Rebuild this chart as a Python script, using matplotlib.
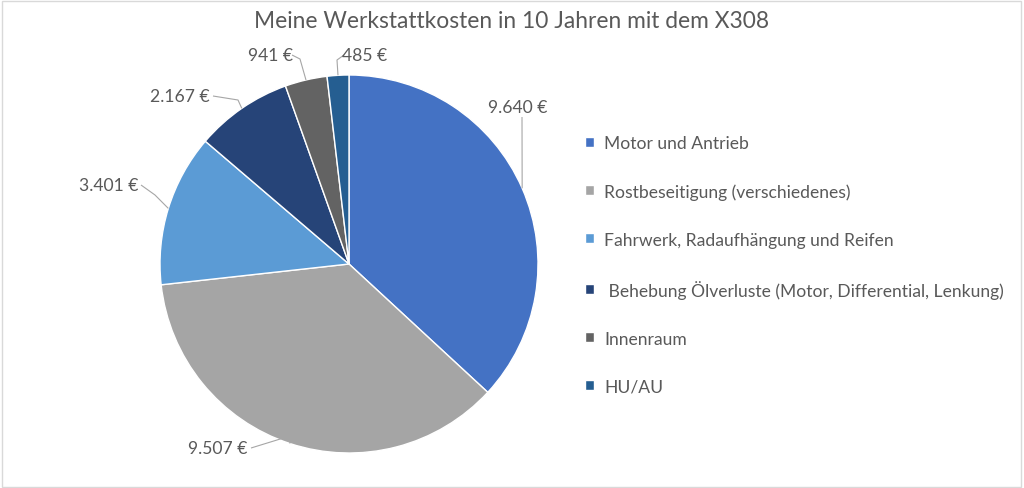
import numpy as np
import matplotlib.pyplot as plt
from matplotlib.patches import Rectangle

categories = ["Motor und Antrieb", "Rostbeseitigung (verschiedenes)",
              "Fahrwerk, Radaufhängung und Reifen",
              " Behebung Ölverluste (Motor, Differential, Lenkung)",
              "Innenraum", "HU/AU"]
values = [9640, 9507, 3401, 2167, 941, 485]
value_labels = ["9.640 €", "9.507 €", "3.401 €", "2.167 €", "941 €", "485 €"]
colors = ["#4472C4", "#A5A5A5", "#5B9BD5", "#264478", "#636363", "#255E91"]

# label text anchor positions (pixel coords, y from top)
label_pos = [(518, 108), (218, 449), (109, 186), (180, 97), (270, 56), (365, 56)]

plt.rcParams['font.family'] = ['Lato', 'DejaVu Sans']
txt = "#595959"

fig = plt.figure(figsize=(10.24, 4.89), dpi=100)
ax = fig.add_axes([0, 0, 1, 1])

cx, cy, r = 349, 489 - 265, 189
wedges, _ = ax.pie(values, colors=colors, startangle=90, counterclock=False,
                   center=(cx, cy), radius=r, frame=True,
                   wedgeprops=dict(edgecolor='white', linewidth=1))
ax.set_xlim(0, 1024)
ax.set_ylim(0, 489)
ax.set_aspect('equal')
ax.axis('off')

for lab, (lx, ly) in zip(value_labels, label_pos):
    ax.text(lx, 489 - ly, lab, ha='center', va='center', fontsize=12.6, color=txt)

# leader lines
def leader(pts):
    xs = [p[0] for p in pts]
    ys = [489 - p[1] for p in pts]
    ax.plot(xs, ys, color='#A6A6A6', lw=0.8, solid_capstyle='butt')

mids = [np.deg2rad((w.theta1 + w.theta2) / 2) for w in wedges]
edge = [(cx + r * np.cos(a), 265 - r * np.sin(a)) for a in mids]
leader([(522, 118), edge[0]])
leader([(251, 449), (290, 437), edge[1]])
leader([(141, 186), (155, 196), edge[2]])
leader([(213, 97), (238, 101), edge[3]])
leader([(292, 56), (300, 60), edge[4]])
leader([(344, 56), (337, 61), edge[5]])

fig.text(0.5, 1 - 21 / 489, "Meine Werkstattkosten in 10 Jahren mit dem X308",
         ha='center', va='center', fontsize=16.4, color=txt)

fig.legend(wedges, categories, loc='upper left', bbox_to_anchor=(585 / 1024, 1 - 136 / 489),
           frameon=False, fontsize=12.6, labelcolor=txt, handlelength=0.5, handleheight=0.5,
           handletextpad=0.6, labelspacing=1.83, borderaxespad=0, borderpad=0)

fig.patches.append(Rectangle((0.002, 0.003), 0.995, 0.993, transform=fig.transFigure,
                             fill=False, edgecolor='#D9D9D9', lw=1))

fig.savefig('out.png', dpi=100)
